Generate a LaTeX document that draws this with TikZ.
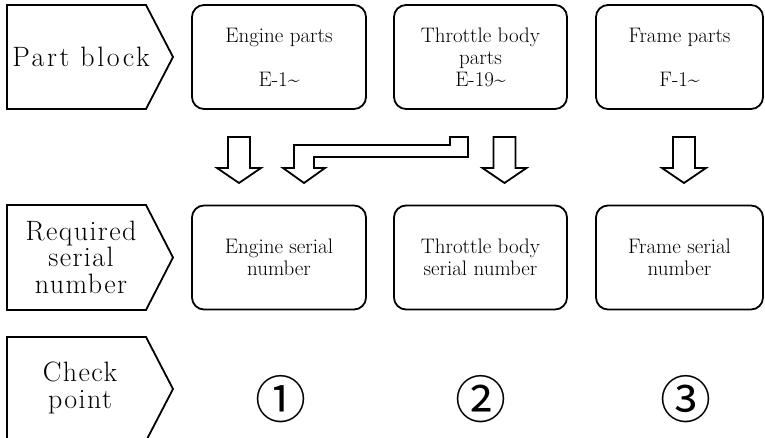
\documentclass[tikz,border=0pt]{standalone}
\usepackage{fontspec}
\newfontfamily\circfont{Noto Sans CJK JP}
\newfontfamily\lblfont{Latin Modern Roman}[LetterSpace=5]
\newfontfamily\wlblfont{Latin Modern Roman}[LetterSpace=9]
\begin{document}
\begin{tikzpicture}[x=1pt,y=-1pt]
\tikzset{
 outline/.style={draw=black, line width=1.8pt, line join=miter},
 partbox/.style={outline, rounded corners=12pt, minimum width=174pt, minimum height=104pt, inner sep=0pt, align=center, font=\fontsize{21}{22}\selectfont},
 lbl/.style={align=center, inner sep=0pt, font=\lblfont\fontsize{28}{26.5}\selectfont},
 circnum/.style={inner sep=0pt, font=\circfont\fontsize{51}{51}\selectfont},
 blockarrow/.style={outline, fill=white},
 dnarrow/.pic={\draw[blockarrow] (-11,168) -- (-22,168) -- (0,183) -- (22,168) -- (11,168) -- (11,137) -- (-11,137) -- cycle;}
}
\useasboundingbox (0,0) rectangle (765,438);
\clip (0,0) rectangle (765,438);
\fill[white] (0,0) rectangle (765,438);

% row labels (pentagons)
\draw[outline] (7,5) -- (146,5) -- (173,57) -- (146,109) -- (7,109) -- cycle;
\node[lbl, font=\wlblfont\fontsize{28}{26.5}\selectfont] (l1) at (81,57) {Part block};
\draw[outline] (7,205) -- (146,205) -- (173,257.5) -- (146,310) -- (7,310) -- cycle;
\node[lbl] (l2) at (81,257) {Required\\serial\\number};
\draw[outline] (7,337) -- (146,337) -- (173,389) -- (146,441) -- (7,441) -- cycle;
\node[lbl] (l3) at (80,388) {Check\\point};

% part blocks
\node[partbox] (ep) at (279,57) {Engine parts\\[22pt]E-1\textasciitilde};
\node[partbox, minimum width=173pt] (tp) at (480.5,57) {Throttle body\\parts\\E-19\textasciitilde};
\node[partbox, minimum width=167pt] (fp) at (679.5,57) {Frame parts\\[22pt]F-1\textasciitilde};

% serial numbers
\node[partbox] (es) at (279,257.5) {Engine serial\\number};
\node[partbox, minimum width=173pt] (ts) at (480.5,257.5) {Throttle body\\serial number};
\node[partbox, minimum width=167pt] (fs) at (679.5,257.5) {Frame serial\\number};

% block arrows
\pic at (239,0) {dnarrow};
\pic at (504.5,0) {dnarrow};
\pic at (684,0) {dnarrow};
\draw[blockarrow] (294,168) -- (283,168) -- (304,183) -- (325,168) -- (314,168) -- (314,157) -- (468,157) -- (468,137) -- (450,137) -- (450,145) -- (294,145) -- cycle;

% check points
\node[circnum] (c1) at (281,399) {①};
\node[circnum] (c2) at (481,399) {②};
\node[circnum] (c3) at (686,399) {③};
\end{tikzpicture}
\end{document}
